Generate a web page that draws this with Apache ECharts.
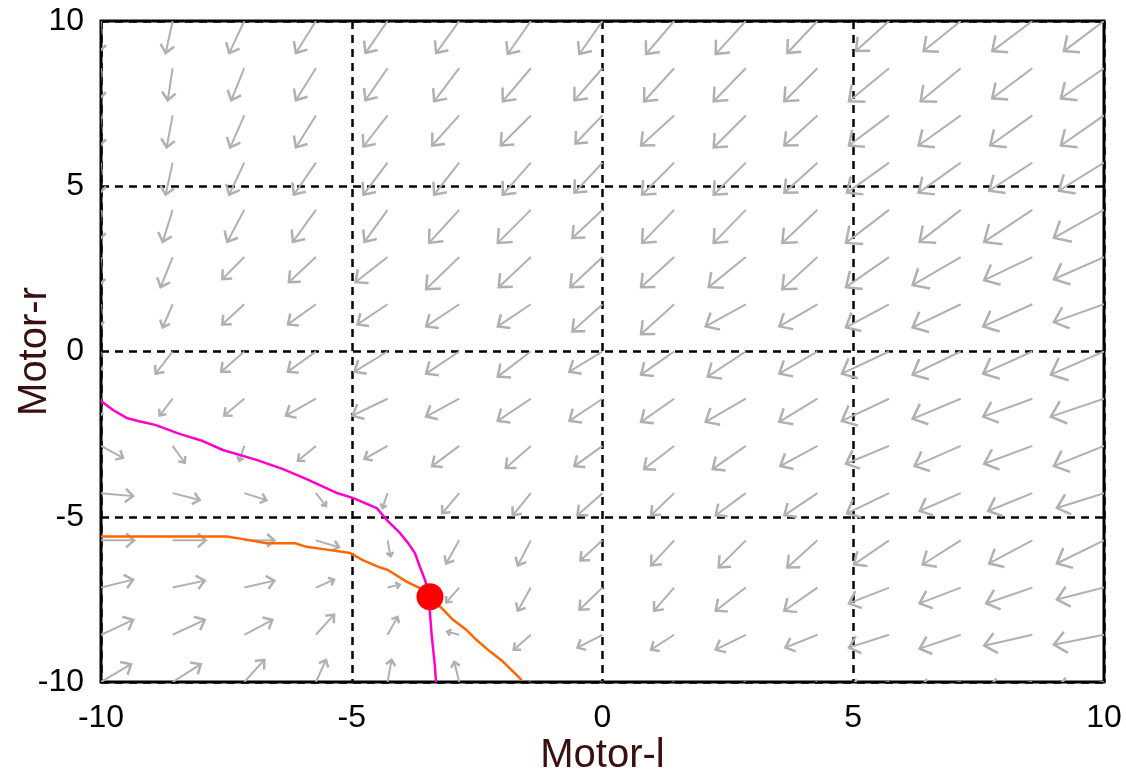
<!DOCTYPE html>
<html><head><meta charset="utf-8">
<script src="https://cdn.jsdelivr.net/npm/echarts@6/dist/echarts.min.js"></script>
<style>html,body{margin:0;padding:0;background:#fff}#c{width:1126px;height:775px}</style>
</head><body><div id="c"></div>
<script>
// axis ticks
const xTicks = [-10, -5, 0, 5, 10];
const yTicks = [-10, -5, 0, 5, 10];
// lattice of the direction field (tail positions)
const gridX = [-10, -8.571, -7.143, -5.714, -4.286, -2.857, -1.429, 0, 1.429, 2.857, 4.286, 5.714, 7.143, 8.571, 10];
const gridY = [10, 8.571, 7.143, 5.714, 4.286, 2.857, 1.429, 0, -1.429, -2.857, -4.286, -5.714, -7.143, -8.571, -10];
// arrow components (data units), one row per gridY value, one entry per gridX value
const arrowU = [
 [-0.04,-0.14,-0.30,-0.40,-0.44,-0.46,-0.46,-0.46,-0.56,-0.60,-0.60,-0.66,-0.74,-0.80,-0.80],
 [-0.04,-0.10,-0.26,-0.40,-0.44,-0.50,-0.56,-0.56,-0.60,-0.64,-0.66,-0.80,-0.80,-0.80,-0.86],
 [-0.04,-0.12,-0.28,-0.40,-0.48,-0.54,-0.60,-0.54,-0.66,-0.64,-0.66,-0.80,-0.84,-0.84,-0.86],
 [-0.04,-0.14,-0.30,-0.44,-0.48,-0.50,-0.56,-0.56,-0.64,-0.64,-0.66,-0.84,-0.84,-0.86,-0.90],
 [-0.04,-0.20,-0.34,-0.46,-0.46,-0.60,-0.66,-0.60,-0.64,-0.64,-0.70,-0.86,-0.82,-0.96,-1.00],
 [-0.04,-0.24,-0.44,-0.54,-0.64,-0.66,-0.64,-0.64,-0.66,-0.74,-0.70,-0.86,-0.96,-0.96,-1.00],
 [-0.04,-0.20,-0.44,-0.56,-0.60,-0.66,-0.66,-0.60,-0.66,-0.80,-0.76,-0.86,-0.96,-0.98,-1.00],
 [-0.06,-0.34,-0.46,-0.56,-0.66,-0.66,-0.66,-0.66,-0.66,-0.76,-0.76,-0.94,-0.96,-0.98,-1.06],
 [-0.04,-0.26,-0.40,-0.60,-0.70,-0.66,-0.66,-0.66,-0.66,-0.80,-0.76,-0.94,-0.96,-0.98,-1.06],
 [0.44,0.24,-0.10,-0.36,-0.46,-0.54,-0.50,-0.56,-0.60,-0.66,-0.74,-0.86,-0.92,-0.96,-1.00],
 [0.64,0.54,0.44,0.20,-0.10,-0.34,-0.36,-0.50,-0.46,-0.60,-0.66,-0.84,-0.82,-0.88,-0.94],
 [0.66,0.66,0.60,0.46,0.06,-0.26,-0.26,-0.44,-0.46,-0.54,-0.60,-0.70,-0.76,-0.86,-0.94],
 [0.64,0.64,0.60,0.36,0.24,-0.26,-0.26,-0.46,-0.40,-0.60,-0.66,-0.80,-0.82,-0.92,-0.94],
 [0.64,0.64,0.56,0.36,0.20,-0.24,-0.34,-0.50,-0.46,-0.60,-0.64,-0.80,-0.82,-0.96,-1.00],
 [0.60,0.56,0.40,0.20,0.08,-0.10,-0.50,-0.50,-0.56,-0.64,-0.70,-0.80,-0.84,-0.90,-0.96]
];
const arrowV = [
 [-0.94,-0.97,-0.97,-0.97,-0.97,-0.97,-1.00,-1.00,-1.00,-1.00,-0.97,-0.91,-0.91,-0.91,-0.91],
 [-0.94,-0.97,-0.97,-0.97,-0.97,-1.00,-1.00,-0.97,-1.00,-1.00,-1.00,-1.00,-1.00,-0.91,-0.91],
 [-0.94,-0.97,-0.97,-0.97,-0.94,-0.91,-0.91,-0.85,-0.91,-0.97,-0.91,-0.91,-0.91,-0.91,-0.91],
 [-0.94,-0.97,-0.97,-0.97,-0.97,-0.97,-0.97,-0.91,-0.97,-0.97,-0.91,-0.91,-0.91,-0.85,-0.85],
 [-0.91,-0.97,-0.97,-0.97,-0.97,-1.00,-1.00,-0.85,-1.00,-1.00,-1.00,-1.00,-0.97,-0.97,-0.85],
 [-0.85,-0.91,-0.67,-0.76,-0.76,-0.97,-0.91,-0.91,-0.91,-0.91,-0.97,-0.91,-0.85,-0.70,-0.67],
 [-0.67,-0.70,-0.61,-0.61,-0.61,-0.67,-0.67,-0.82,-0.91,-0.67,-0.67,-0.70,-0.70,-0.67,-0.54],
 [-0.61,-0.67,-0.61,-0.61,-0.61,-0.67,-0.76,-0.61,-0.70,-0.76,-0.67,-0.67,-0.70,-0.67,-0.70],
 [-0.54,-0.51,-0.51,-0.51,-0.51,-0.54,-0.67,-0.67,-0.70,-0.70,-0.70,-0.67,-0.61,-0.54,-0.54],
 [-0.36,-0.51,-0.45,-0.45,-0.39,-0.61,-0.67,-0.61,-0.70,-0.70,-0.61,-0.54,-0.61,-0.54,-0.61],
 [-0.09,-0.21,-0.21,-0.39,-0.45,-0.61,-0.67,-0.67,-0.67,-0.67,-0.67,-0.61,-0.54,-0.54,-0.45],
 [0,0,0,-0.21,-0.48,-0.70,-0.76,-0.61,-0.76,-0.82,-0.82,-0.73,-0.73,-0.70,-0.70],
 [0.24,0.21,0.21,0.24,0.09,-0.45,-0.70,-0.67,-0.70,-0.70,-0.70,-0.48,-0.48,-0.48,-0.36],
 [0.45,0.45,0.45,0.61,0.54,0.09,-0.45,-0.39,-0.45,-0.45,-0.39,-0.39,-0.42,-0.33,-0.30],
 [0.54,0.54,0.67,0.67,0.67,0.61,-0.30,-0.30,-0.30,-0.30,-0.30,-0.24,-0.24,-0.24,-0.24]
];
// nullclines
const magentaCurve = [[-10,-1.50],[-9.76,-1.77],[-9.49,-2.01],[-9.22,-2.12],[-8.92,-2.22],[-8.42,-2.50],[-7.97,-2.71],[-7.57,-2.98],[-6.90,-3.28],[-6.37,-3.56],[-5.90,-3.86],[-5.30,-4.28],[-4.98,-4.43],[-4.50,-4.74],[-4.30,-5.10],[-4.04,-5.49],[-3.88,-5.79],[-3.74,-6.10],[-3.64,-6.52],[-3.54,-6.91],[-3.48,-7.22],[-3.44,-7.91],[-3.41,-8.52],[-3.34,-9.55],[-3.32,-10]];
const orangeCurve = [[-10,-5.60],[-9.32,-5.60],[-8.79,-5.60],[-7.83,-5.60],[-7.49,-5.60],[-7.07,-5.70],[-6.70,-5.80],[-6.13,-5.80],[-5.90,-5.91],[-5.43,-6.01],[-5.03,-6.10],[-4.78,-6.31],[-4.48,-6.51],[-4.28,-6.61],[-3.90,-6.97],[-3.64,-7.16],[-3.44,-7.46],[-3.21,-7.76],[-2.98,-8.12],[-2.71,-8.43],[-2.51,-8.73],[-2.24,-9.08],[-1.98,-9.39],[-1.71,-9.79],[-1.61,-9.94]];
const equilibrium = [[-3.44,-7.42]];

const arrowData = [];
for (let j = 0; j < gridY.length; j++) {
  for (let i = 0; i < gridX.length; i++) {
    arrowData.push([gridX[i], gridY[j], arrowU[j][i], arrowV[j][i]]);
  }
}

const chart = echarts.init(document.getElementById('c'), null, {renderer: 'canvas'});
const FONT = 'Liberation Sans, Arial, sans-serif';
const ARROW = '#b0b0b0';
chart.setOption({
  animation: false,
  backgroundColor: '#ffffff',
  grid: {left: 101, right: 22, top: 21, bottom: 93, containLabel: false, outerBoundsMode: 'none',
         show: true, borderColor: '#000', borderWidth: 3, backgroundColor: '#fff'},
  xAxis: {
    type: 'value', min: -10, max: 10, interval: 5,
    name: 'Motor-l', nameLocation: 'middle', nameGap: 54, nameMoveOverlap: false,
    nameTextStyle: {fontSize: 40, fontFamily: FONT, color: '#3a0f0f'},
    axisLine: {show: false}, axisTick: {show: false},
    axisLabel: {fontSize: 32, fontFamily: FONT, color: '#000', margin: 20, formatter: v => xTicks.includes(v) ? String(v) : ''},
    splitLine: {show: true, lineStyle: {color: '#000', width: 2.5, type: [8, 6]}}
  },
  yAxis: {
    type: 'value', min: -10, max: 10, interval: 5,
    name: 'Motor-r', nameLocation: 'middle', nameGap: 46, nameMoveOverlap: false,
    nameTextStyle: {fontSize: 40, fontFamily: FONT, color: '#3a0f0f'},
    axisLine: {show: false}, axisTick: {show: false},
    axisLabel: {fontSize: 32, fontFamily: FONT, color: '#000', margin: 17, formatter: v => yTicks.includes(v) ? String(v) : ''},
    splitLine: {show: true, lineStyle: {color: '#000', width: 2.5, type: [8, 6]}}
  },
  series: [
    {
      type: 'custom', clip: true, z: 2,
      encode: {x: 0, y: 1},
      data: arrowData,
      renderItem: function (params, api) {
        const x = api.value(0), y = api.value(1), u = api.value(2), v = api.value(3);
        const p0 = api.coord([x, y]);
        const p1 = api.coord([x + u, y + v]);
        const dx = p1[0] - p0[0], dy = p1[1] - p0[1];
        const len = Math.hypot(dx, dy);
        const ang = Math.atan2(dy, dx);
        const h = Math.max(5, len * 0.32), a = 0.72;
        const b1 = [p1[0] - h * Math.cos(ang - a), p1[1] - h * Math.sin(ang - a)];
        const b2 = [p1[0] - h * Math.cos(ang + a), p1[1] - h * Math.sin(ang + a)];
        return {
          type: 'group',
          children: [
            {type: 'line', shape: {x1: p0[0], y1: p0[1], x2: p1[0], y2: p1[1]}, style: {stroke: ARROW, lineWidth: 2}},
            {type: 'polyline', shape: {points: [b1, p1, b2]}, style: {stroke: ARROW, lineWidth: 2.5, fill: null}}
          ]
        };
      }
    },
    {type: 'line', data: magentaCurve, showSymbol: false, symbol: 'none', z: 3, lineStyle: {color: '#ff00cc', width: 2.5}},
    {type: 'line', data: orangeCurve, showSymbol: false, symbol: 'none', z: 3, lineStyle: {color: '#ff6600', width: 2.5}},
    {type: 'scatter', data: equilibrium, symbol: 'circle', symbolSize: 27, z: 4, itemStyle: {color: '#ff0000', opacity: 1}}
  ]
});
</script>
</body></html>
